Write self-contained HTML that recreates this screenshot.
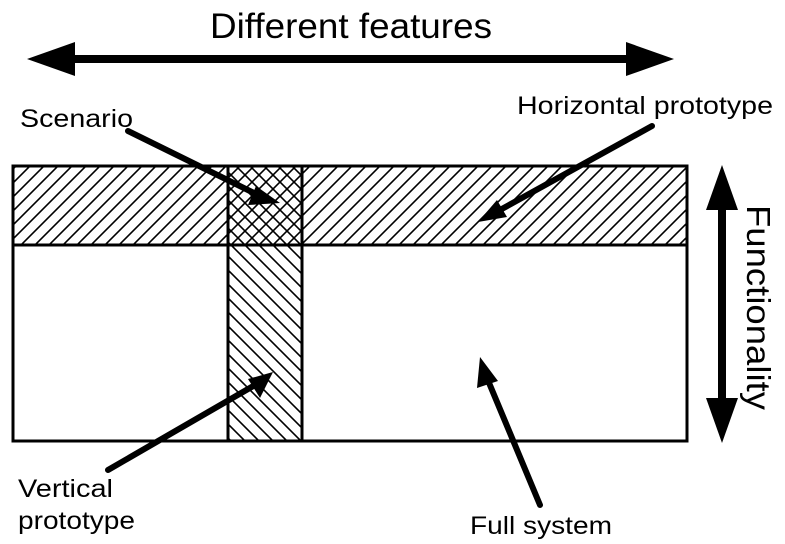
<!DOCTYPE html>
<html><head><meta charset="utf-8"><style>body{margin:0;background:#fff}</style></head><body>
<svg width="785" height="539" viewBox="0 0 785 539" xmlns="http://www.w3.org/2000/svg" font-family="Liberation Sans, sans-serif">
<defs>
<pattern id="f" width="14" height="14" patternUnits="userSpaceOnUse">
<path d="M-2 16 L16 -2 M-2 2 L2 -2 M12 16 L16 12" stroke="#000" stroke-width="1.6"/>
</pattern>
<pattern id="b" width="14" height="14" patternUnits="userSpaceOnUse">
<path d="M-2 -2 L16 16 M-2 12 L2 16 M12 -2 L16 2" stroke="#000" stroke-width="1.6"/>
</pattern>
</defs>
<rect x="13" y="166" width="674" height="79" fill="url(#f)"/>
<rect x="228" y="245" width="74" height="196" fill="url(#b)"/>
<rect x="228" y="166" width="74" height="79" fill="url(#b)"/>
<g fill="none" stroke="#000" stroke-width="3">
<rect x="13" y="166" width="674" height="275"/>
<line x1="13" y1="245" x2="687" y2="245"/>
<line x1="228" y1="166" x2="228" y2="441"/>
<line x1="302" y1="166" x2="302" y2="441"/>
</g>
<rect x="70" y="55" width="560" height="8"/>
<polygon points="27,59 75,42 75,76"/>
<polygon points="674,59 626,42 626,76"/>
<rect x="718" y="205" width="8" height="200"/>
<polygon points="722,165 706,210 738,210"/>
<polygon points="722,443 706,398 738,398"/>
<g stroke="#000" stroke-width="6" stroke-linecap="round">
<line x1="128" y1="131" x2="258" y2="195"/>
<line x1="652" y1="126" x2="500" y2="210"/>
<line x1="108" y1="470" x2="255" y2="385"/>
<line x1="540" y1="505" x2="487" y2="378"/>
</g>
<polygon points="280,203 248,205 256,186"/>
<polygon points="478,222 497,200 507,217"/>
<polygon points="273,372 260,398 248,379"/>
<polygon points="480,357 498,381 477,388"/>
<g font-size="25" fill="#000" lengthAdjust="spacingAndGlyphs">
<text x="20" y="127" textLength="113" lengthAdjust="spacingAndGlyphs">Scenario</text>
<text x="517" y="114" textLength="256" lengthAdjust="spacingAndGlyphs">Horizontal prototype</text>
<text x="18" y="497" textLength="95" lengthAdjust="spacingAndGlyphs">Vertical</text>
<text x="18" y="529" textLength="117" lengthAdjust="spacingAndGlyphs">prototype</text>
<text x="470" y="534" textLength="142" lengthAdjust="spacingAndGlyphs">Full system</text>
</g>
<text x="210" y="38" font-size="35" textLength="282" lengthAdjust="spacingAndGlyphs">Different features</text>
<text transform="translate(747,205) rotate(90)" font-size="33" textLength="205" lengthAdjust="spacingAndGlyphs">Functionality</text>
</svg>
</body></html>
